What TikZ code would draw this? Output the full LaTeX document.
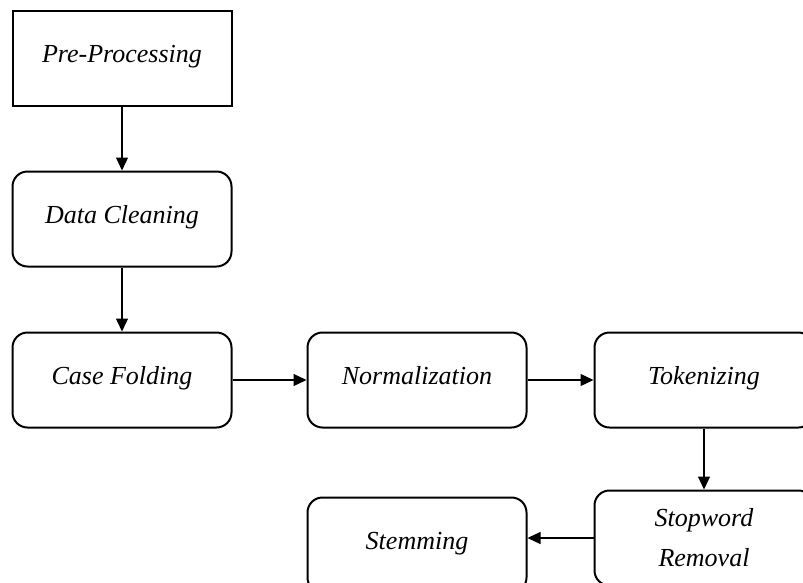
\documentclass[tikz,border=0pt]{standalone}
\usepackage{fontspec}
\setmainfont{Liberation Serif}
\usetikzlibrary{positioning, arrows.meta}
\tikzset{every step/.style={draw,line width=2pt,minimum width=219pt,minimum height=95pt,align=center,
                            text height=18pt,text depth=10pt,
                            font=\itshape\fontsize{26}{40}\selectfont},
         stage/.style={every step},
         procbox/.style={every step,rounded corners=15pt},
         flow/.style={line width=1.2pt,-{Triangle[length=13pt,width=12pt]}},
        }
\begin{document}
\begin{tikzpicture}[x=1pt,y=-1pt]
        \useasboundingbox(0,0)rectangle(803,582);
        \clip(0,0)rectangle(803,582);

        \node[stage](pre)at(122,58){Pre-Processing};
        \node[procbox](clean)at(122,219){Data Cleaning};
        \node[procbox](fold)at(122,380){Case Folding};
        \node[procbox](norm)at(417,380){Normalization};
        \node[procbox](token)at(704,380){Tokenizing};
        \node[procbox, text height=, text depth=](stop)at(704,538){Stopword\\Removal};
        \node[procbox](stem)at(417,545){Stemming};

        \draw[flow](pre)--(clean);
        \draw[flow](clean)--(fold);
        \draw[flow](fold)--(norm);
        \draw[flow](norm)--(token);
        \draw[flow](token)--(stop);
        \draw[flow](stop.west)--(stop.west -| stem.east);
    \end{tikzpicture}
\end{document}
